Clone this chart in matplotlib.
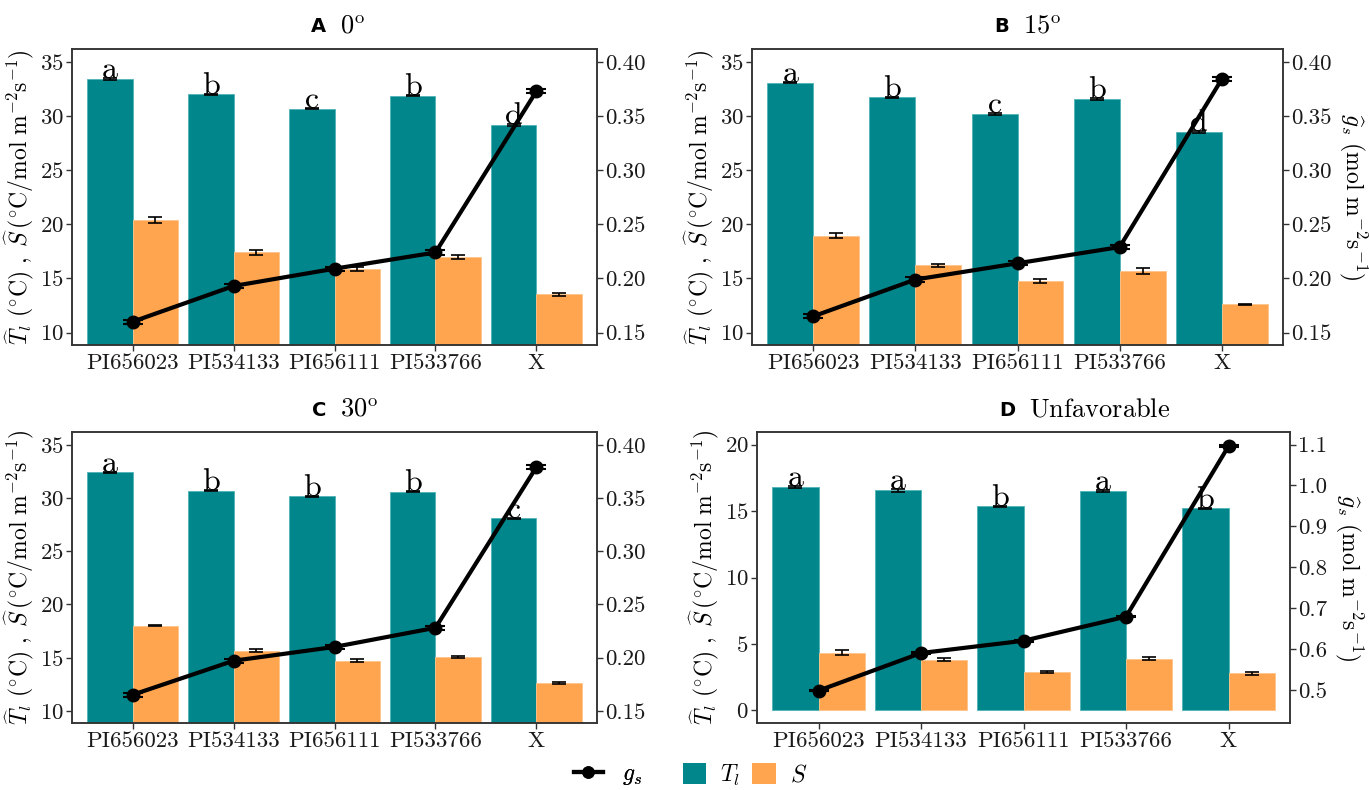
import numpy as np
import matplotlib
matplotlib.use("Agg")
import matplotlib.pyplot as plt
from matplotlib.lines import Line2D
from matplotlib.patches import Patch
from matplotlib.ticker import FormatStrFormatter

plt.rcParams["mathtext.fontset"] = "cm"
plt.rcParams["font.family"] = "serif"
plt.rcParams["font.serif"] = ["cmr10", "DejaVu Serif"]
plt.rcParams["axes.unicode_minus"] = False
plt.rcParams["axes.formatter.use_mathtext"] = True

genotypes = ["PI656023", "PI534133", "PI656111", "PI533766", "X"]

# panel A: 0 deg
tl_a = [33.4, 32.0, 30.7, 31.9, 29.2]
tl_se_a = [0.10, 0.08, 0.08, 0.08, 0.10]
s_a = [20.4, 17.4, 15.85, 17.0, 13.55]
s_se_a = [0.25, 0.20, 0.18, 0.18, 0.15]
gs_a = [0.160, 0.193, 0.209, 0.224, 0.373]
let_a = ["a", "b", "c", "b", "d"]

# panel B: 15 deg
tl_b = [33.1, 31.75, 30.2, 31.6, 28.5]
tl_se_b = [0.08, 0.06, 0.06, 0.10, 0.08]
s_b = [18.95, 16.2, 14.75, 15.7, 12.6]
s_se_b = [0.25, 0.15, 0.20, 0.25, 0.06]
gs_b = [0.165, 0.199, 0.214, 0.229, 0.384]
let_b = ["a", "b", "c", "b", "d"]

# panel C: 30 deg
tl_c = [32.4, 30.7, 30.15, 30.6, 28.1]
tl_se_c = [0.06, 0.08, 0.08, 0.06, 0.06]
s_c = [18.0, 15.65, 14.7, 15.05, 12.6]
s_se_c = [0.05, 0.15, 0.15, 0.12, 0.10]
gs_c = [0.165, 0.197, 0.210, 0.228, 0.379]
let_c = ["a", "b", "b", "b", "c"]

# panel D: unfavorable
tl_d = [16.8, 16.55, 15.35, 16.5, 15.2]
tl_se_d = [0.08, 0.08, 0.05, 0.05, 0.06]
s_d = [4.35, 3.8, 2.9, 3.9, 2.8]
s_se_d = [0.20, 0.12, 0.10, 0.08, 0.10]
gs_d = [0.498, 0.590, 0.620, 0.679, 1.096]
let_d = ["a", "a", "b", "a", "b"]

gs_se = [0.002, 0.002, 0.002, 0.002, 0.002]

tags = ["A", "B", "C", "D"]
names = [r"$0^{\mathrm{o}}$", r"$15^{\mathrm{o}}$", r"$30^{\mathrm{o}}$", r"$\mathrm{Unfavorable}$"]

TEAL = "#00868B"
ORANGE = "#FFA54F"
FRAME = "#333333"

W, H = 1369, 790
fig = plt.figure(figsize=(W / 100, H / 100), dpi=100)


def px_box(l, t, r, b):
    return [l / W, 1 - b / H, (r - l) / W, (b - t) / H]


panels = [
    dict(box=(72, 49, 597, 345), tl=tl_a, tle=tl_se_a, s=s_a, se=s_se_a, gs=gs_a, let=let_a,
         ylim=(8.85, 36.2), yt=np.arange(10, 36, 5), k=0.01, c=0.05,
         gt=np.arange(0.15, 0.41, 0.05), fmt="%.2f", rlab=False),
    dict(box=(752, 49, 1283, 345), tl=tl_b, tle=tl_se_b, s=s_b, se=s_se_b, gs=gs_b, let=let_b,
         ylim=(8.85, 36.2), yt=np.arange(10, 36, 5), k=0.01, c=0.05,
         gt=np.arange(0.15, 0.41, 0.05), fmt="%.2f", rlab=True),
    dict(box=(72, 432, 597, 723), tl=tl_c, tle=tl_se_c, s=s_c, se=s_se_c, gs=gs_c, let=let_c,
         ylim=(8.85, 36.2), yt=np.arange(10, 36, 5), k=0.01, c=0.05,
         gt=np.arange(0.15, 0.41, 0.05), fmt="%.2f", rlab=False),
    dict(box=(757, 432, 1290, 723), tl=tl_d, tle=tl_se_d, s=s_d, se=s_se_d, gs=gs_d, let=let_d,
         ylim=(-0.95, 20.95), yt=np.arange(0, 21, 5), k=0.03251, c=0.4497,
         gt=np.arange(0.5, 1.11, 0.1), fmt="%.1f", rlab=True),
]

x = np.arange(len(genotypes))
bw = 0.45

for tag, name, p in zip(tags, names, panels):
    ax = fig.add_axes(px_box(*p["box"]))
    ax.bar(x - bw / 2, p["tl"], width=bw, color=TEAL, edgecolor="#4fb3b6", linewidth=0.6, zorder=1)
    ax.bar(x + bw / 2, p["s"], width=bw, color=ORANGE, edgecolor="#ffc38a", linewidth=0.6, zorder=1)
    ax.errorbar(x - bw / 2, p["tl"], yerr=p["tle"], fmt="none", ecolor="black",
                elinewidth=1.2, capsize=5, capthick=1.2, zorder=2)
    ax.errorbar(x + bw / 2, p["s"], yerr=p["se"], fmt="none", ecolor="black",
                elinewidth=1.2, capsize=5, capthick=1.2, zorder=2)
    for xi, v, e, l in zip(x, p["tl"], p["tle"], p["let"]):
        ax.text(xi - bw / 2, v + e, l, ha="center", va="baseline", fontsize=23, zorder=3)
    ax.set_ylim(*p["ylim"])
    ax.set_yticks(p["yt"])
    ax.set_xlim(-0.6, len(genotypes) - 0.4)
    ax.set_xticks(x)
    ax.set_xticklabels(genotypes)
    ax.set_ylabel(r"$\widehat{T}_l\ (^{\circ}\mathrm{C})\ ,\ \widehat{S}\,"
                  r"(^{\circ}\mathrm{C/mol\ m^{-2}s^{-1}})$",
                  fontsize=17, labelpad=2)
    ax.tick_params(labelsize=16.5, length=4, width=1, color=FRAME, labelcolor="#1a1a1a", pad=2)
    for sp in ax.spines.values():
        sp.set_color(FRAME)
        sp.set_linewidth(1.1)

    # secondary axis for stomatal conductance
    ax2 = ax.twinx()
    ax2.set_ylim(p["k"] * p["ylim"][0] + p["c"], p["k"] * p["ylim"][1] + p["c"])
    ax2.set_yticks(p["gt"])
    ax2.yaxis.set_major_formatter(FormatStrFormatter(p["fmt"]))
    ax2.errorbar(x, p["gs"], yerr=gs_se, fmt="none", ecolor="black", elinewidth=1.2,
                 capsize=7, capthick=1.5, zorder=3)
    ax2.plot(x, p["gs"], color="black", lw=3, marker="o", markersize=9, zorder=4)
    ax2.tick_params(labelsize=16.5, length=4, width=1, color=FRAME, labelcolor="#1a1a1a", pad=2)
    if p["rlab"]:
        ax2.set_ylabel(r"$\widehat{g}_s\ (\mathrm{mol\ m^{-2}s^{-1}})$", fontsize=17,
                       rotation=-90, va="bottom", labelpad=4)
    for sp in ax2.spines.values():
        sp.set_color(FRAME)
        sp.set_linewidth(1.1)

    # panel title: bold tag plus condition
    l, t, r, b = p["box"]
    cx = (l + r) / 2 / W
    ty = 1 - (t - 22) / H
    fig.text(cx - 0.006, ty, tag, ha="right", va="center", fontsize=14,
             fontweight="bold", family="DejaVu Sans")
    fig.text(cx + 0.004, ty, name, ha="left", va="center", fontsize=19)

# two legends side by side below the panels
leg_y = 1 - 775 / H
leg1 = fig.legend([Line2D([], [], color="black", lw=3, marker="o", markersize=8)], [r"$g_s$"],
                  loc="center", bbox_to_anchor=(608 / W, leg_y), frameon=False, fontsize=17,
                  handlelength=1.2, handletextpad=0.8)
fig.add_artist(leg1)
fig.legend([Patch(facecolor=TEAL), Patch(facecolor=ORANGE)], [r"$T_l$", r"$S$"],
           loc="center", bbox_to_anchor=(745 / W, leg_y), ncol=2, frameon=False, fontsize=17,
           handlelength=1.0, handleheight=1.0, columnspacing=0.5, handletextpad=0.6)

fig.savefig("out.png", dpi=100)
